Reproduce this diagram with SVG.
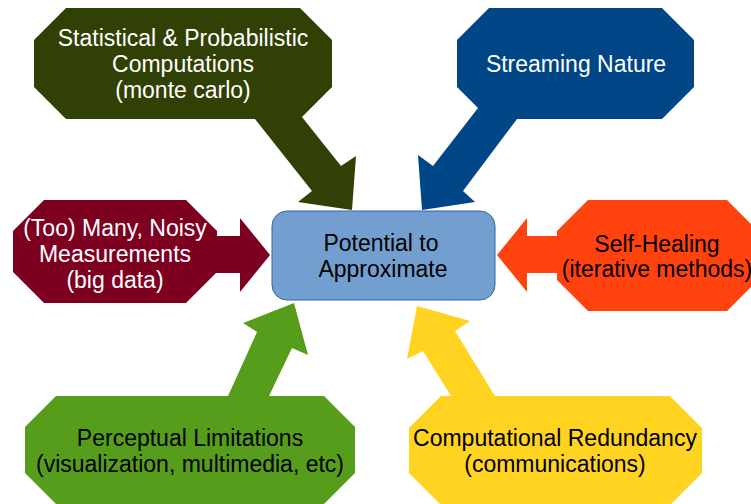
<svg xmlns="http://www.w3.org/2000/svg" width="751" height="504" viewBox="0 0 751 504">
<style>
text{font-family:"Liberation Sans",Arial,sans-serif;font-size:23px;text-anchor:middle}
.w{fill:#ffffff}
.k{fill:#000000}
</style>
<rect width="751" height="504" fill="#ffffff"/>
<g id="connectors"></g>
<g id="stat">
<polygon fill="#314004" points="66,8 300,8 332,40 332,87 302,117 341,166 356,156 352,210 298,202 312,191 255,119 66,119 34,87 34,40"/>
<text class="w" x="183" y="46">Statistical &amp; Probabilistic</text>
<text class="w" x="183" y="72">Computations</text>
<text class="w" x="183" y="98">(monte carlo)</text>
</g>
<g id="stream">
<polygon fill="#004586" points="489,8 662,8 694,40 694,87 662,119 517,119 463,191 475,202 422,210 418,155 433,166 478,108 457,87 457,40"/>
<text class="w" x="576" y="72">Streaming Nature</text>
</g>
<g id="noisy">
<polygon fill="#7e0021" points="44,200 186,200 217,231 217,236 240,236 240,218 270,255 240,292 240,273 216,273 186,303 44,303 13,272 13,231"/>
<text class="w" x="115" y="236">(Too) Many, Noisy</text>
<text class="w" x="115" y="262">Measurements</text>
<text class="w" x="115" y="288">(big data)</text>
</g>
<g id="heal">
<polygon fill="#ff420e" points="588,200 727,200 758,231 758,280 727,311 588,311 557,280 557,273 527,273 527,292 497,255 527,218 527,236 557,236 557,231"/>
<text class="k" x="657" y="252">Self-Healing</text>
<text class="k" x="657" y="277">(iterative methods)</text>
</g>
<g id="percept">
<polygon fill="#579d1c" points="56,396 228,396 257,332 243,323 294,303 308,355 292,348 269,396 324,396 355,427 355,473 324,504 56,504 25,473 25,427"/>
<text class="k" x="190" y="446">Perceptual Limitations</text>
<text class="k" x="190" y="472">(visualization, multimedia, etc)</text>
</g>
<g id="redund">
<polygon fill="#ffd320" points="441,396 451,396 423,351 407,359 417,306 470,321 455,331 495,396 670,396 702,428 702,473 671,504 440,504 409,473 409,428"/>
<text class="k" x="555" y="446">Computational Redundancy</text>
<text class="k" x="555" y="472">(communications)</text>
</g>
<g id="center">
<rect x="272" y="211" width="223" height="89" rx="15" ry="15" fill="#729fcf" stroke="#3465a4" stroke-width="1"/>
<text class="k" x="381" y="251">Potential to</text>
<text class="k" x="383" y="277">Approximate</text>
</g>
</svg>
